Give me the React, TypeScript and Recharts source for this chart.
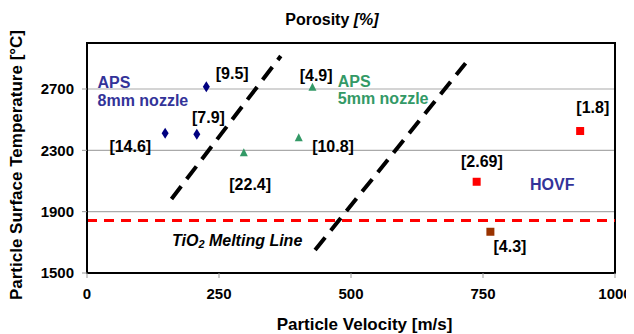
import { ScatterChart, Scatter, XAxis, YAxis, CartesianGrid, ReferenceLine, ReferenceArea, ReferenceDot } from 'recharts';

const FONT = '"Liberation Sans", Arial, Helvetica, sans-serif';

const xTicks = [0, 250, 500, 750, 1000];
const yTicks = [1500, 1900, 2300, 2700];

// particle velocity [m/s], surface temperature [°C], porosity label
const aps8mm = [
  { v: 148, t: 2411, p: '[14.6]' },
  { v: 208, t: 2405, p: '[7.9]' },
  { v: 226, t: 2715, p: '[9.5]' },
];
const aps5mm = [
  { v: 297, t: 2285, p: '[22.4]' },
  { v: 401, t: 2382, p: '[10.8]' },
  { v: 427, t: 2711, p: '[4.9]' },
];
const hovf = [
  { v: 934, t: 2426, p: '[1.8]' },
  { v: 738, t: 2095, p: '[2.69]' },
];
const hovfLow = [{ v: 764, t: 1769, p: '[4.3]' }];

const meltingPoint = 1843;

const trendLines = [
  [{ x: 160, y: 1983 }, { x: 367, y: 2915 }],
  [{ x: 432, y: 1650 }, { x: 717, y: 2868 }],
];

// label anchors in data units
const porosityLabels = [
  { v: 82, t: 2324, text: '[14.6]' },
  { v: 230, t: 2511, text: '[7.9]' },
  { v: 275, t: 2798, text: '[9.5]' },
  { v: 309, t: 2074, text: '[22.4]' },
  { v: 466, t: 2324, text: '[10.8]' },
  { v: 434, t: 2791, text: '[4.9]' },
  { v: 958, t: 2581, text: '[1.8]' },
  { v: 748, t: 2224, text: '[2.69]' },
  { v: 801, t: 1670, text: '[4.3]' },
];

const groupLabels = [
  { v: 20, t: 2741, text: 'APS', color: '#333399' },
  { v: 20, t: 2628, text: '8mm nozzle', color: '#333399' },
  { v: 475, t: 2752, text: 'APS', color: '#339966' },
  { v: 475, t: 2635, text: '5mm nozzle', color: '#339966' },
  { v: 839, t: 2080, text: 'HOVF', color: '#333399' },
];

const Diamond = (p: any) => (
  <polygon points={`${p.cx},${p.cy - 5.5} ${p.cx + 3.5},${p.cy} ${p.cx},${p.cy + 5.5} ${p.cx - 3.5},${p.cy}`} fill="#000080" />
);
const Triangle = (p: any) => (
  <polygon points={`${p.cx},${p.cy - 4.5} ${p.cx + 4},${p.cy + 3.5} ${p.cx - 4},${p.cy + 3.5}`} fill="#339966" />
);
const Square = (color: string) => (p: any) => (
  <rect x={p.cx - 4} y={p.cy - 4} width={8} height={8} fill={color} />
);

export default function App() {
  return (
    <div style={{ position: 'relative', width: 626, height: 326, fontFamily: FONT }}>
      <div style={{ position: 'absolute', left: 0, width: 648, top: 3, textAlign: 'center', fontSize: 16, fontWeight: 'bold' }}>
        Porosity <i>[%]</i>
      </div>
      <div style={{ position: 'absolute', left: 0, width: 713, top: 307, textAlign: 'center', fontSize: 17, fontWeight: 'bold' }}>
        Particle Velocity [m/s]
      </div>
      <div
        style={{
          position: 'absolute', left: 9, top: 157, width: 0, height: 0,
        }}
      >
        <div style={{ position: 'absolute', left: -200, top: -10, width: 400, textAlign: 'center', transform: 'rotate(-90deg)', fontSize: 17, fontWeight: 'bold', whiteSpace: 'nowrap' }}>
          Particle Surface Temperature [°C]
        </div>
      </div>
      <ScatterChart width={626} height={318} margin={{ top: 35, right: 19, bottom: 23, left: 29 }} style={{ position: 'absolute', left: 0, top: 0 }}>
        <CartesianGrid vertical={false} stroke="#aaaaaa" strokeWidth={1.2} />
        <XAxis
          type="number"
          dataKey="v"
          domain={[0, 1000]}
          ticks={xTicks}
          height={30}
          tickSize={5}
          tickMargin={10}
          tickLine={{ stroke: '#999' }}
          axisLine={{ stroke: '#000', strokeWidth: 2 }}
          tick={{ fill: '#000', fontSize: 15, fontWeight: 'bold', fontFamily: FONT }}
          allowDataOverflow
        />
        <YAxis
          type="number"
          dataKey="t"
          domain={[1500, 3000]}
          ticks={yTicks}
          width={50}
          tickSize={5}
          tickMargin={8}
          tickLine={{ stroke: '#999' }}
          axisLine={{ stroke: '#000', strokeWidth: 2 }}
          tick={{ fill: '#000', fontSize: 15, fontWeight: 'bold', fontFamily: FONT }}
          allowDataOverflow
        />
        <ReferenceArea x1={0} x2={1000} y1={1500} y2={3000} fill="none" fillOpacity={0} stroke="#000" strokeWidth={2} />
        <ReferenceLine y={meltingPoint} stroke="#ff0000" strokeWidth={3} strokeDasharray="10 7" />
        {trendLines.map((seg, i) => (
          <ReferenceLine key={i} segment={seg} stroke="#000" strokeWidth={4} strokeDasharray="16 9" />
        ))}
        <Scatter data={aps8mm} shape={Diamond} isAnimationActive={false} />
        <Scatter data={aps5mm} shape={Triangle} isAnimationActive={false} />
        <Scatter data={hovf} shape={Square('#ff0000')} isAnimationActive={false} />
        <Scatter data={hovfLow} shape={Square('#993300')} isAnimationActive={false} />
        {porosityLabels.map((l, i) => (
          <ReferenceDot
            key={'p' + i}
            x={l.v}
            y={l.t}
            shape={(p: any) => (
              <text x={p.cx} y={p.cy} textAnchor="middle" dominantBaseline="central" fontSize={16} fontWeight="bold" fontFamily={FONT} fill="#000">
                {l.text}
              </text>
            )}
          />
        ))}
        {groupLabels.map((l, i) => (
          <ReferenceDot
            key={'g' + i}
            x={l.v}
            y={l.t}
            shape={(p: any) => (
              <text x={p.cx} y={p.cy} textAnchor="start" dominantBaseline="central" fontSize={16} fontWeight="bold" fontFamily={FONT} fill={l.color}>
                {l.text}
              </text>
            )}
          />
        ))}
        <ReferenceDot
          x={161}
          y={1715}
          shape={(p: any) => (
            <text x={p.cx} y={p.cy} textAnchor="start" dominantBaseline="central" fontSize={16} fontWeight="bold" fontStyle="italic" fontFamily={FONT} fill="#000">
              TiO<tspan fontSize={11} dy={4}>2</tspan><tspan dy={-4}> Melting Line</tspan>
            </text>
          )}
        />
      </ScatterChart>
    </div>
  );
}
